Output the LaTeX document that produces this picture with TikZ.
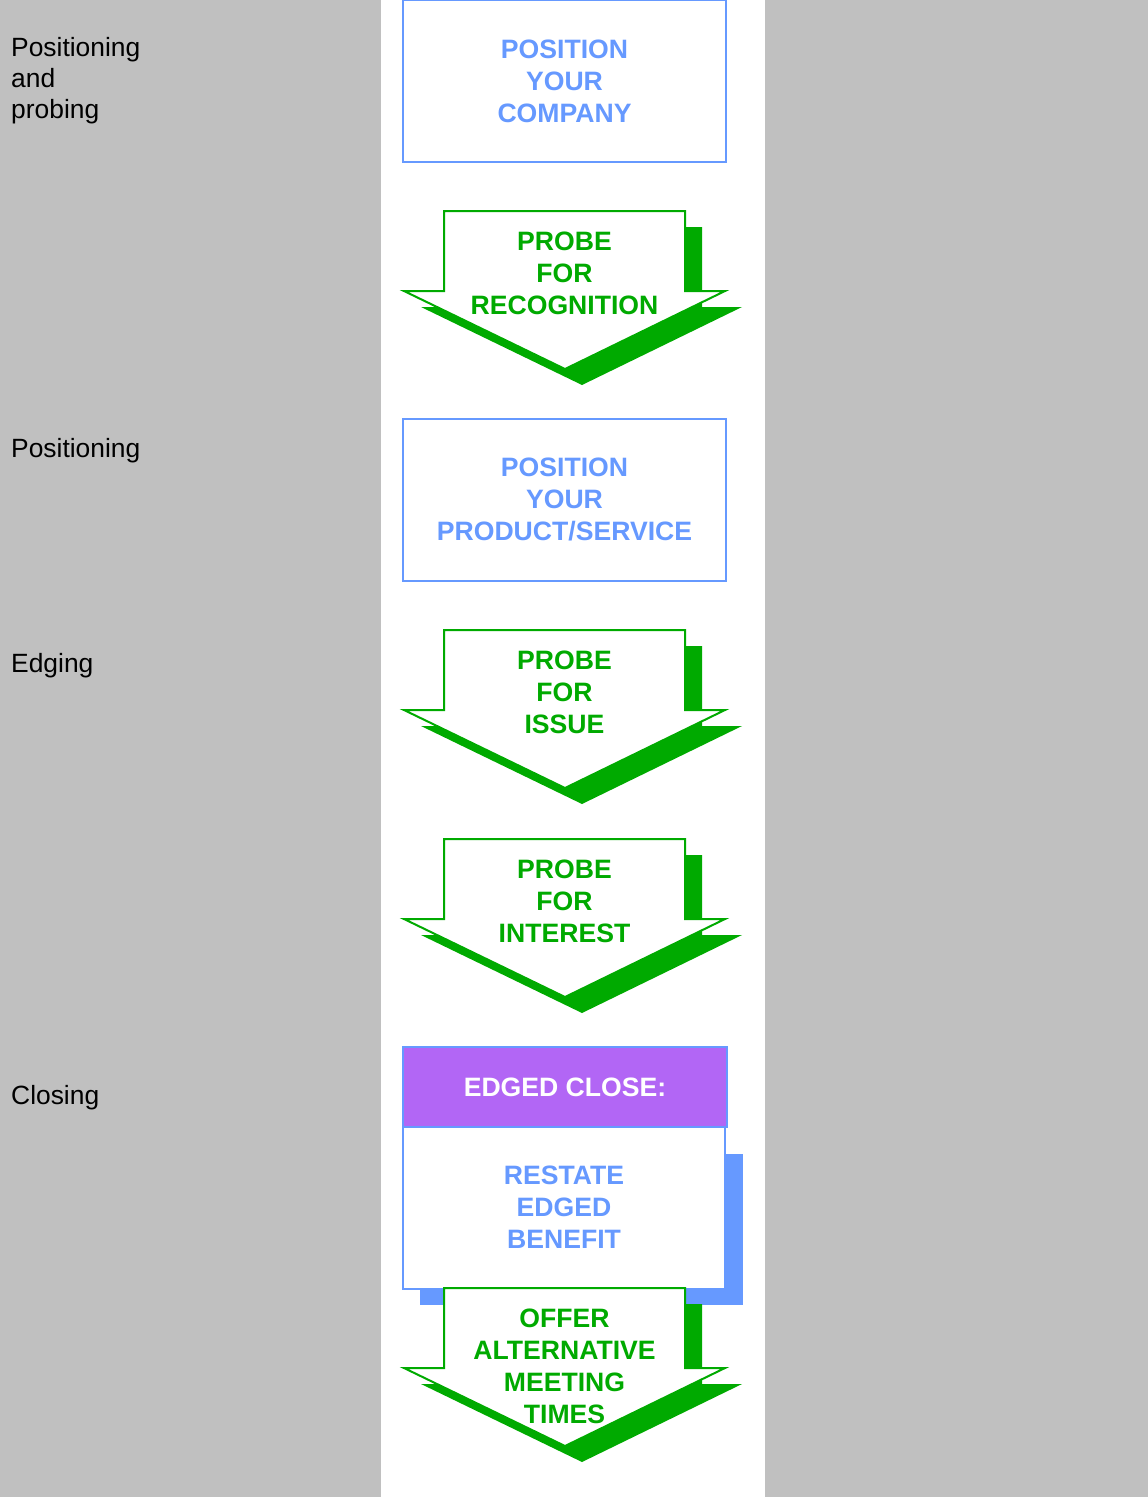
\documentclass[tikz,border=0pt]{standalone}
\usepackage{fontspec}
\setmainfont{Liberation Sans}
\usepackage{tikz}
\usetikzlibrary{shapes,arrows,positioning,calc}
\definecolor{bggray}{RGB}{192,192,192}
\definecolor{stepblue}{RGB}{102,153,255}
\definecolor{probegreen}{RGB}{0,170,0}
\definecolor{closepurple}{RGB}{178,102,245}
\tikzset{
  phase/.style={anchor=north west, inner sep=0pt, align=left,
    font=\fontsize{26.4}{31}\selectfont},
  stepbox/.style={draw=stepblue, line width=2pt, fill=white,
    minimum width=323pt, minimum height=162pt, align=center,
    text=stepblue, font=\fontsize{26.6}{32}\selectfont\bfseries},
  arrowline/.style={draw=probegreen, line width=2pt, fill=white},
  arrowtext/.style={anchor=north, inner sep=0pt, align=center,
    text=probegreen, font=\fontsize{26.6}{32}\selectfont\bfseries}
}
% down arrow: #1 name, #2 top, #3 text
\newcommand\ProbeArrow[3]{%
  \fill[probegreen, shift={(17,16)}] (444,#2) -- (685,#2) -- (685,#2+80) -- (725,#2+80)
    -- (565,#2+158) -- (404,#2+80) -- (444,#2+80) -- cycle;
  \draw[arrowline] (444,#2) -- (685,#2) -- (685,#2+80) -- (725,#2+80)
    -- (565,#2+158) -- (404,#2+80) -- (444,#2+80) -- cycle;
  \node[arrowtext] (#1) at (564.5,#2+21) {#3};
}
\begin{document}
\begin{tikzpicture}[x=1pt,y=-1pt]

  % Background
  \fill[bggray] (0,0) rectangle (1148,1497);
  \fill[white] (381,0) rectangle (765,1497);
  \useasboundingbox (0,0) rectangle (1148,1497);

  % Phase labels
  \node[phase] (probing) at (11,37) {Positioning\\and\\probing};
  \node[phase] (positioning) at (11,438) {Positioning};
  \node[phase] (edging) at (11,653) {Edging};
  \node[phase] (closing) at (11,1085) {Closing};

  % Steps
  \node[stepbox] (company) at (564.5,81) {POSITION\\YOUR\\COMPANY};
  \ProbeArrow{recognition}{211}{PROBE\\FOR\\RECOGNITION}
  \node[stepbox] (product) at (564.5,499.5) {POSITION\\YOUR\\PRODUCT/SERVICE};
  \ProbeArrow{issue}{630}{PROBE\\FOR\\ISSUE}
  \ProbeArrow{interest}{839}{PROBE\\FOR\\INTEREST}

  % Closing
  \coordinate (shadow nw) at (420,1154);
  \coordinate (shadow se) at (743,1305);
  \fill[stepblue] (shadow nw) rectangle (shadow se);
  \node[stepbox, minimum height=163pt, minimum width=322pt] (restate) at (564,1207) {RESTATE\\EDGED\\BENEFIT};
  \node[stepbox, fill=closepurple, text=white, minimum height=80pt, minimum width=324pt] (edged) at (565,1087) {EDGED CLOSE:};
  \ProbeArrow{offer}{1288}{OFFER\\ALTERNATIVE\\MEETING\\TIMES}

\end{tikzpicture}
\end{document}
